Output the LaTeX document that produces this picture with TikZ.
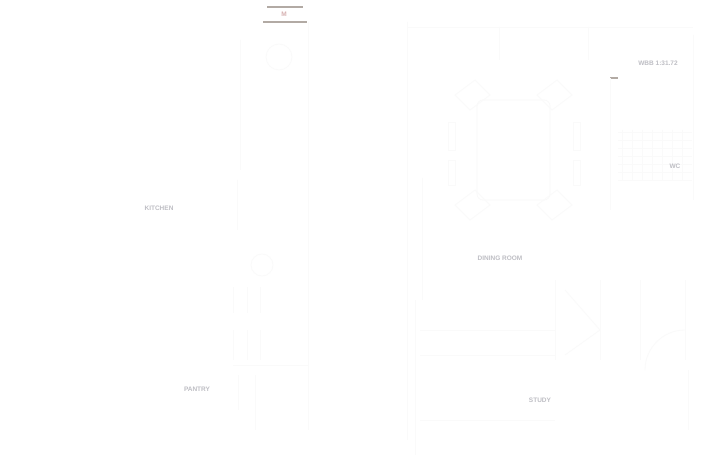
\documentclass[tikz,border=0pt]{standalone}
\usepackage{fontspec}
\setmainfont{Liberation Sans}
\definecolor{wallgray}{RGB}{178,170,164}
\definecolor{labelgray}{RGB}{190,190,196}
\definecolor{labelpink}{RGB}{214,176,176}
\begin{document}
\begin{tikzpicture}[x=1pt,y=-1pt,
  faint/.style={draw=black!1.8,line width=0.8pt},
  faint2/.style={draw=black!2.5,line width=0.8pt},
  wall/.style={draw=wallgray,line width=1.4pt},
  lbl/.style={font=\fontsize{6.5}{7}\selectfont\bfseries,text=labelgray,inner sep=0pt}]
\useasboundingbox[fill=white] (0,0) rectangle (711,462);
% top double line (stair / opening)
\draw[wall] (267,7) coordinate (t1) -- (303,7) coordinate (t2);
\draw[wall] (263,22) coordinate (t3) -- (307,22) coordinate (t4);
\node[lbl,text=labelpink] (lm) at (284,14) {M};
% small bar right
\draw[wall] (610,78) coordinate (b1) -- (618,78) coordinate (b2);
% main walls (faint)
\draw[faint] (308,22) -- (308,430);
\draw[faint] (407,22) -- (407,440);
\draw[faint] (422,178) -- (422,300);
\draw[faint] (499,27) -- (499,60);
\draw[faint] (588,27) -- (588,60);
\draw[faint] (610,78) -- (610,210);
\draw[faint] (693,35) -- (693,200);
\draw[faint] (407,27) -- (693,27);
% dining table with chairs
\draw[faint2,rounded corners=6pt] (477,100) rectangle (550,200);
\draw[faint] (448,122) rectangle (455,150) (448,160) rectangle (455,185);
\draw[faint] (573,122) rectangle (580,150) (573,160) rectangle (580,185);
\draw[faint] (455,95) -- (475,80) -- (490,95) -- (470,110) -- cycle;
\draw[faint] (537,95) -- (557,80) -- (572,95) -- (552,110) -- cycle;
\draw[faint] (455,205) -- (475,190) -- (490,205) -- (470,220) -- cycle;
\draw[faint] (537,205) -- (557,190) -- (572,205) -- (552,220) -- cycle;
% hatched closet
\foreach \y in {132,140,...,180} \draw[faint] (618,\y) -- (692,\y);
\foreach \x in {622,632,...,690} \draw[faint] (\x,130) -- (\x,180);
% left fixtures
\draw[faint] (279,57) circle (13);
\draw[faint] (240,40) -- (240,170) (237,180) -- (237,230);
\draw[faint] (262,265) circle (11);
\foreach \x in {233,247,260} {\draw[faint] (\x,287) -- (\x,313); \draw[faint] (\x,330) -- (\x,360);}
\draw[faint] (233,365) -- (308,365);
\draw[faint] (238,375) -- (238,410) (255,375) -- (255,430);
% lower right rooms
\draw[faint] (415,300) -- (415,455);
\draw[faint] (420,330) -- (555,330);
\draw[faint] (420,355) -- (555,355);
\draw[faint] (420,420) -- (555,420);
\draw[faint] (555,280) -- (555,360);
\draw[faint] (565,290) -- (600,330) -- (565,355);
\draw[faint] (600,280) -- (600,360) (640,280) -- (640,360) (685,280) -- (685,360);
\draw[faint] (645,370) arc (180:270:40);
\draw[faint] (688,370) -- (688,430);
% labels
\node[lbl] (wbb) at (658,63) {WBB 1:31.72};
\node[lbl] (wc) at (675,166) {WC};
\node[lbl] (kit) at (159,208) {KITCHEN};
\node[lbl] (din) at (500,258) {DINING ROOM};
\node[lbl] (pan) at (197,389) {PANTRY};
\node[lbl] (stu) at (540,400) {STUDY};
\end{tikzpicture}
\end{document}
